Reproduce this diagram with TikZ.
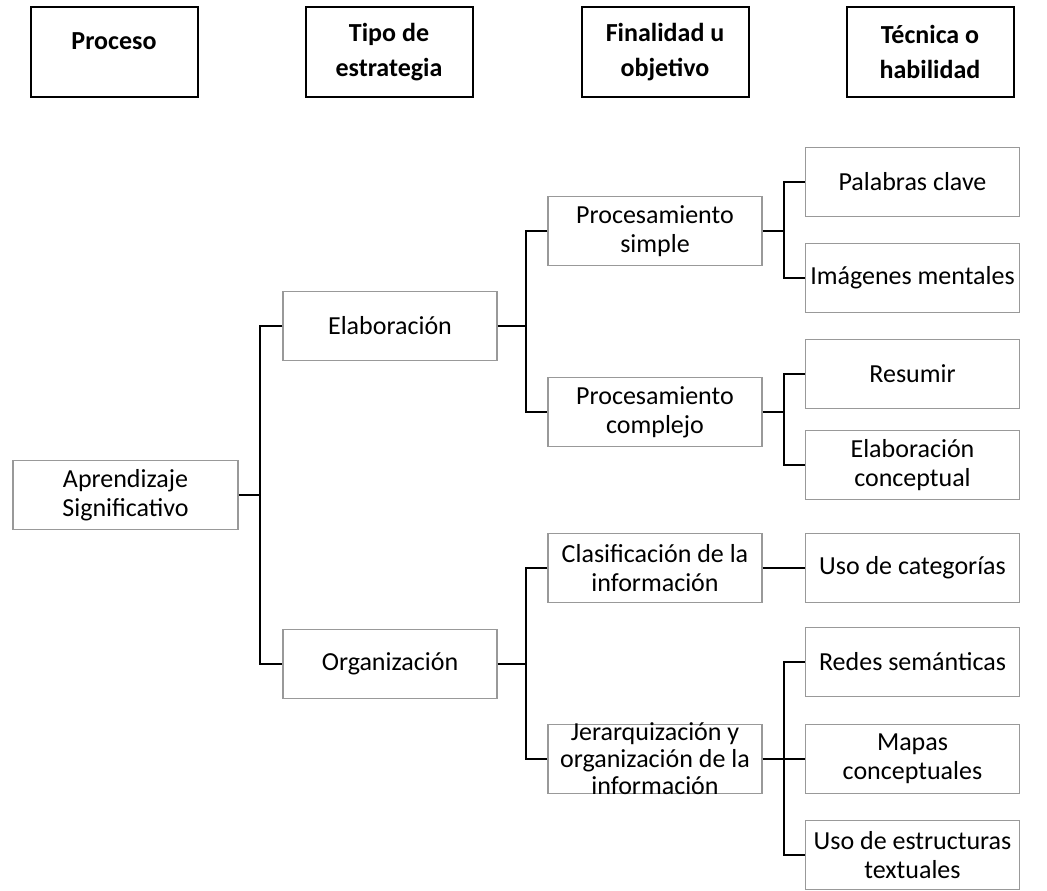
\documentclass[tikz,border=0pt]{standalone}
\usepackage{fontspec}
\setmainfont{Carlito}
\usetikzlibrary{positioning, calc}

\begin{document}
\begin{tikzpicture}[
    x=0.75pt, y=-0.75pt,
    head/.style={draw, line width=1.5pt, minimum width=125.25pt, minimum height=67.5pt,
        align=center, font=\bfseries\fontsize{19.5}{26.25}\selectfont},
    box/.style={draw=black!40, line width=0.8pt, minimum width=160.5pt, minimum height=51.75pt,
        inner ysep=1pt, align=center, font=\fontsize{19.5}{21.75}\selectfont},
    link/.style={line width=1.6pt}
]
\useasboundingbox (0,0) rectangle (1047,890);

% --- Column headers ---
\node[head, text depth=16pt] (proceso) at (114,52) {Proceso};
\node[head] (tipo) at (389,52) {Tipo de\\estrategia};
\node[head] (final) at (665,52) {Finalidad u\\objetivo};
\node[head] (tecnica) at (930,52) {Técnica o\\habilidad};

% --- Proceso ---
\node[box, minimum width=168.75pt] (apr) at (125.5,495) {Aprendizaje\\Significativo};

% --- Tipo de estrategia ---
\node[box] (elab) at (390,326) {Elaboración};
\node[box] (org) at (390,664) {Organización};

% --- Finalidad u objetivo ---
\node[box] (psim) at (655,231) {Procesamiento\\simple};
\node[box] (pcom) at (655,412) {Procesamiento\\complejo};
\node[box] (clas) at (655,568) {Clasificación de la\\información};
\node[box, label={[align=center, font=\fontsize{19.5}{20.25}\selectfont]center:Jerarquización y\\organización de la\\información}] (jer) at (655,759) {};

% --- Técnica o habilidad ---
\begin{scope}[every node/.append style={minimum width=161.25pt}]
    \node[box] (pal) at (912.5,182) {Palabras clave};
    \node[box] (img) at (912.5,278) {Imágenes mentales};
    \node[box] (res) at (912.5,374) {Resumir};
    \node[box] (econ) at (912.5,465) {Elaboración\\conceptual};
    \node[box] (cat) at (912.5,568) {Uso de categorías};
    \node[box] (red) at (912.5,662) {Redes semánticas};
    \node[box] (map) at (912.5,759) {Mapas\\conceptuales};
    \node[box] (est) at (912.5,855) {Uso de estructuras\\textuales};
\end{scope}

% bus lines
\coordinate (b1) at (260,0);
\coordinate (b2) at (526,0);
\coordinate (b3) at (784,0);

\draw[link] (apr.east) -- (apr.east -| b1);
\draw[link] (elab.west) -- (elab.west -| b1) -- (org.west -| b1) -- (org.west);

\draw[link] (elab.east) -- (elab.east -| b2);
\draw[link] (psim.west) -- (psim.west -| b2) -- (pcom.west -| b2) -- (pcom.west);
\draw[link] (org.east) -- (org.east -| b2);
\draw[link] (clas.west) -- (clas.west -| b2) -- (jer.west -| b2) -- (jer.west);

\draw[link] (psim.east) -- (psim.east -| b3);
\draw[link] (pal.west) -- (pal.west -| b3) -- (img.west -| b3) -- (img.west);
\draw[link] (pcom.east) -- (pcom.east -| b3);
\draw[link] (res.west) -- (res.west -| b3) -- (econ.west -| b3) -- (econ.west);
\draw[link] (clas.east) -- (cat.west);
\draw[link] (jer.east) -- (jer.east -| b3);
\draw[link] (red.west) -- (red.west -| b3) -- (est.west -| b3) -- (est.west);
\draw[link] (map.west) -- (map.west -| b3);

\end{tikzpicture}
\end{document}
